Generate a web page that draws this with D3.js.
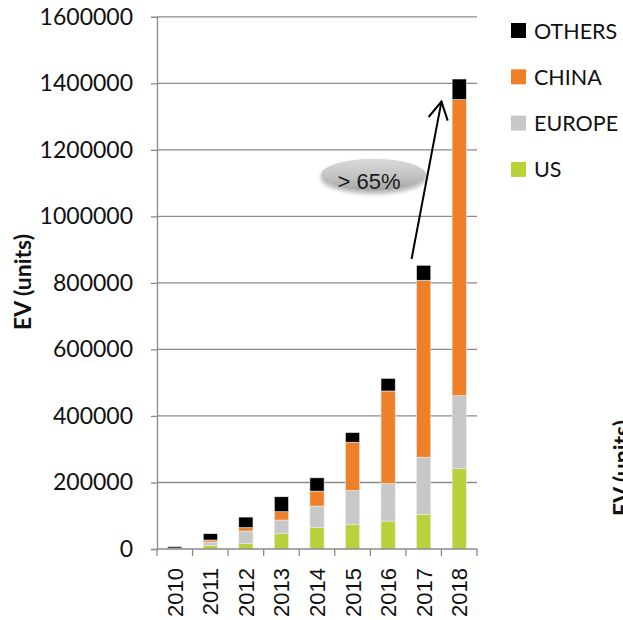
<!DOCTYPE html>
<html>
<head>
<meta charset="utf-8">
<script src="https://cdn.jsdelivr.net/npm/d3@7"></script>
<style>
  html, body { margin: 0; padding: 0; background: #fff; }
  svg { display: block; }
</style>
</head>
<body>
<svg id="chart" width="623" height="620"></svg>
<script>
// ---- data ----
const years  = ["2010", "2011", "2012", "2013", "2014", "2015", "2016", "2017", "2018"];
const us     = [1000, 10000, 16000, 46000, 64000, 73000, 84000, 104000, 241500];
const europe = [1000, 11000, 38000, 41000, 65000, 103000, 113000, 172000, 219500];
const china  = [1000, 6000, 10000, 25000, 45000, 145000, 278000, 532000, 890000];
const others = [4000, 19000, 32000, 45000, 40000, 29000, 38000, 45000, 62000];
const seriesNames = ["US", "EUROPE", "CHINA", "OTHERS"];
const yTicks = [0, 200000, 400000, 600000, 800000, 1000000, 1200000, 1400000, 1600000];
const yTitle = "EV (units)";
const noteText = "> 65%";

// ---- styles ----
const colors = { US: "#bad13c", EUROPE: "#c8c8c8", CHINA: "#ef7f29", OTHERS: "#000000" };
const gridColor = "#8a8a8a";

const svg = d3.select("#chart");

const rows = years.map((y, i) => ({ year: y, US: us[i], EUROPE: europe[i], CHINA: china[i], OTHERS: others[i] }));
const stack = d3.stack().keys(seriesNames)(rows);

const x = d3.scaleBand().domain(years).range([157, 477]).padding(0);
const y = d3.scaleLinear().domain([0, 1600000]).range([549, 16.8]);
const bw = x.bandwidth();

// gridlines
svg.append("g").selectAll("line").data(yTicks.filter(d => d > 0)).join("line")
  .attr("x1", 157).attr("x2", 477)
  .attr("y1", d => y(d)).attr("y2", d => y(d))
  .attr("stroke", gridColor).attr("stroke-width", 1.3);

// bars
svg.append("g").selectAll("g").data(stack).join("g")
  .attr("fill", d => colors[d.key])
  .selectAll("rect").data(d => d).join("rect")
  .attr("x", d => x(d.data.year) + bw * 0.3)
  .attr("width", bw * 0.4)
  .attr("y", d => y(d[1]))
  .attr("height", d => y(d[0]) - y(d[1]))
  .attr("stroke", "#ececec").attr("stroke-width", 0.6);

// y axis
const yAxis = svg.append("g").attr("transform", "translate(157,0)")
  .call(d3.axisLeft(y).tickValues(yTicks).tickFormat(d3.format("d")).tickSize(6).tickPadding(18));
yAxis.select(".domain").attr("stroke", gridColor).attr("stroke-width", 1.3);
yAxis.selectAll(".tick line").attr("stroke", gridColor).attr("stroke-width", 1.3);
yAxis.selectAll(".tick text")
  .attr("font-family", "Lato, sans-serif").attr("font-size", 23).attr("fill", "#111");

// x axis
const xg = svg.append("g");
xg.append("line").attr("x1", 157).attr("x2", 477).attr("y1", y(0)).attr("y2", y(0))
  .attr("stroke", gridColor).attr("stroke-width", 1.3);
const tickXs = years.map(d => x(d)).concat([x.range()[1]]);
xg.selectAll("line.tk").data(tickXs).join("line").attr("class", "tk")
  .attr("x1", d => d).attr("x2", d => d).attr("y1", y(0)).attr("y2", y(0) + 7)
  .attr("stroke", gridColor).attr("stroke-width", 1.3);
xg.selectAll("text").data(years).join("text")
  .attr("transform", d => `translate(${x(d) + bw / 2 + 8},${y(0) + 19}) rotate(-90)`)
  .attr("text-anchor", "end")
  .attr("font-family", "'Liberation Sans', Arial, sans-serif").attr("font-size", 22).attr("fill", "#111")
  .text(d => d);

// y title
svg.append("text")
  .attr("transform", "translate(31,282) rotate(-90)")
  .attr("text-anchor", "middle")
  .attr("font-family", "Lato, sans-serif").attr("font-weight", "bold").attr("font-size", 23)
  .attr("fill", "#111")
  .text(yTitle);

// clipped duplicate title at right edge (as in the reference)
svg.append("text")
  .attr("transform", "translate(630,468) rotate(-90)")
  .attr("text-anchor", "middle")
  .attr("font-family", "Lato, sans-serif").attr("font-weight", "bold").attr("font-size", 23)
  .attr("fill", "#111")
  .text(yTitle);

// legend
const legendOrder = ["OTHERS", "CHINA", "EUROPE", "US"];
const lg = svg.append("g").selectAll("g").data(legendOrder).join("g")
  .attr("transform", (d, i) => `translate(511,${30.5 + i * 46.3})`);
lg.append("rect").attr("x", 0).attr("y", -7.5).attr("width", 15).attr("height", 15)
  .attr("fill", d => colors[d]);
lg.append("text").attr("x", 23).attr("y", 8)
  .attr("font-family", "Lato, sans-serif").attr("font-size", 21.5).attr("fill", "#111")
  .text(d => d);

// annotation: arrow
const defs = svg.append("defs");
defs.append("marker").attr("id", "arrow")
  .attr("markerUnits", "userSpaceOnUse")
  .attr("viewBox", "-20 -12 22 24").attr("markerWidth", 22).attr("markerHeight", 24)
  .attr("refX", 0).attr("refY", 0).attr("orient", "auto")
  .append("path").attr("d", "M-17.5,-9.7 L0,0 L-17.5,9.7")
  .attr("fill", "none").attr("stroke", "#000").attr("stroke-width", 2);

svg.append("line")
  .attr("x1", x("2017") + bw * 0.16).attr("y1", y(872000))
  .attr("x2", x("2018")).attr("y2", y(1345000))
  .attr("stroke", "#000").attr("stroke-width", 2)
  .attr("marker-end", "url(#arrow)");

// annotation: ellipse
const grad = defs.append("linearGradient").attr("id", "eg").attr("x1", 0).attr("y1", 0).attr("x2", 0).attr("y2", 1);
grad.append("stop").attr("offset", "0%").attr("stop-color", "#dadada");
grad.append("stop").attr("offset", "55%").attr("stop-color", "#c3c3c3");
grad.append("stop").attr("offset", "100%").attr("stop-color", "#a4a4a4");
const flt = defs.append("filter").attr("id", "sh").attr("x", "-20%").attr("y", "-30%").attr("width", "140%").attr("height", "180%");
flt.append("feDropShadow").attr("dx", 0).attr("dy", 3).attr("stdDeviation", 2)
  .attr("flood-color", "#000").attr("flood-opacity", 0.3);

const ex = x("2016") + bw * 0.09;
svg.append("ellipse")
  .attr("cx", ex).attr("cy", y(1125000))
  .attr("rx", 52.5).attr("ry", 16)
  .attr("fill", "url(#eg)").attr("filter", "url(#sh)");
svg.append("text")
  .attr("x", ex - 4.5).attr("y", y(1107000) + 8)
  .attr("text-anchor", "middle")
  .attr("font-family", "'Liberation Sans', Arial, sans-serif").attr("font-size", 22).attr("fill", "#1a1a1a")
  .text(noteText);
</script>
</body>
</html>
